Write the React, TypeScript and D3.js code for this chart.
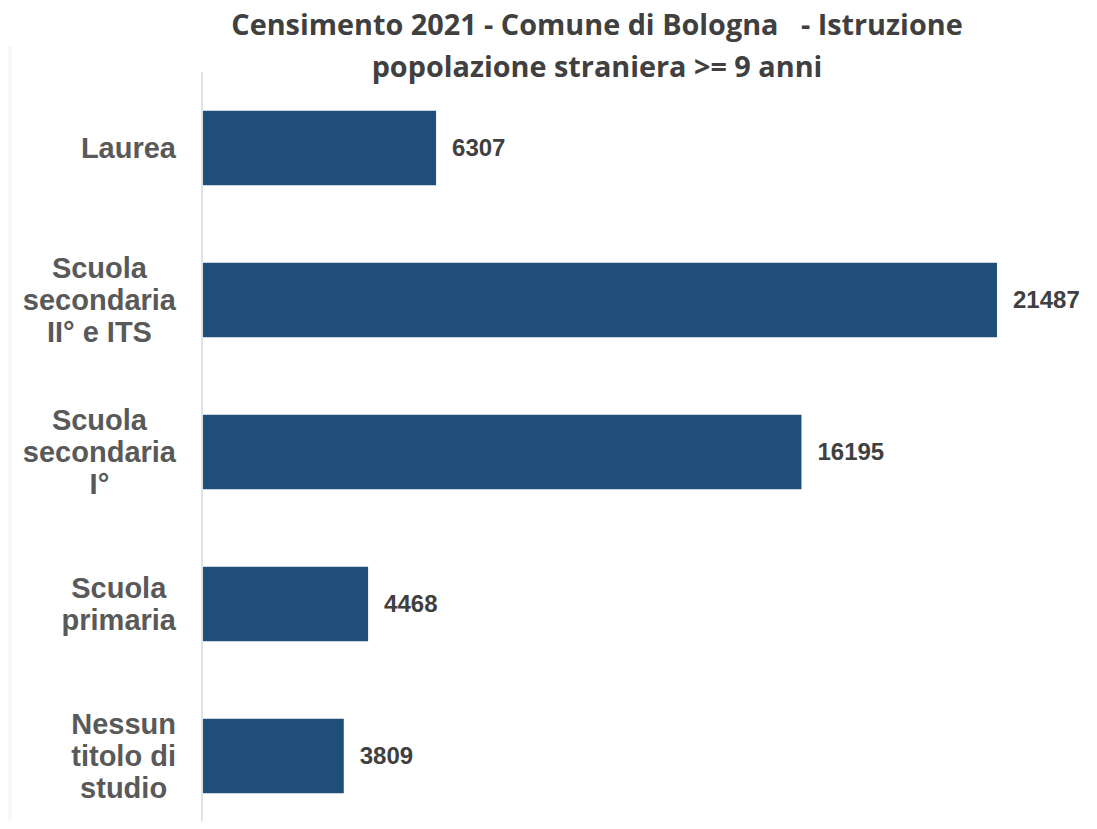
import { useRef, useEffect } from "react"
import * as d3 from "d3"

const categories = ["Laurea", "Scuola secondaria II° e ITS", "Scuola secondaria I°", "Scuola primaria", "Nessun titolo di studio"]
const categoryLines = [["Laurea"], ["Scuola", "secondaria", "II° e ITS"], ["Scuola", "secondaria", "I°"], ["Scuola", "primaria"], ["Nessun", "titolo di", "studio"]]
const values = [6307, 21487, 16195, 4468, 3809]
const titleLines = ["Censimento 2021 - Comune di Bologna   - Istruzione", "popolazione straniera >= 9 anni"]

const W = 1097
const H = 829

export default function App() {
  const svgRef = useRef<SVGSVGElement>(null)

  useEffect(() => {
    if (!svgRef.current) return
    const svg = d3.select(svgRef.current)
    svg.selectAll("*").remove()

    // faint panel strip on the left edge
    svg.append("rect").attr("x", 0).attr("y", 46).attr("width", 12).attr("height", H - 46).attr("fill", "#f4f8fa")

    const x = d3.scaleLinear().domain([0, 21487]).range([203, 997])
    const y = d3.scaleBand().domain(categories).range([72, 832]).paddingInner(0.51).paddingOuter(0.255)

    // title
    svg
      .append("g")
      .selectAll("text")
      .data(titleLines)
      .enter()
      .append("text")
      .attr("x", 597)
      .attr("y", (d, i) => 35 + i * 42)
      .attr("text-anchor", "middle")
      .style("white-space", "pre")
      .style("font-family", "'Open Sans', sans-serif")
      .style("font-weight", "bold")
      .style("font-size", "28.8px")
      .attr("fill", "#404040")
      .text((d) => d)

    // axis line
    svg.append("line").attr("x1", 202).attr("x2", 202).attr("y1", 72).attr("y2", H).attr("stroke", "#d9d9d9").attr("stroke-width", 1.5)

    // bars
    svg
      .selectAll(".bar")
      .data(values)
      .enter()
      .append("rect")
      .attr("class", "bar")
      .attr("x", x(0))
      .attr("y", (d, i) => y(categories[i]) || 0)
      .attr("width", (d) => x(d) - x(0))
      .attr("height", y.bandwidth())
      .attr("fill", "#1f4e79")

    // value labels
    svg
      .selectAll(".val")
      .data(values)
      .enter()
      .append("text")
      .attr("class", "val")
      .attr("x", (d) => x(d) + 16)
      .attr("y", (d, i) => (y(categories[i]) || 0) + y.bandwidth() / 2)
      .attr("dy", "0.35em")
      .style("font-family", "'Liberation Sans', Arial, sans-serif")
      .style("font-weight", "bold")
      .style("font-size", "24px")
      .attr("fill", "#404040")
      .text((d) => d)

    // category labels: lines centred in a block, block right-aligned
    const lh = 32
    const right = 176
    categoryLines.forEach((lines, i) => {
      const cy = (y(categories[i]) || 0) + y.bandwidth() / 2
      const t = svg
        .append("text")
        .attr("text-anchor", "middle")
        .style("font-family", "'Liberation Sans', Arial, sans-serif")
        .style("font-weight", "bold")
        .style("font-size", "29px")
        .attr("fill", "#595959")
      const spans = lines.map((ln, j) =>
        t.append("tspan")
          .attr("y", cy + (j - (lines.length - 1) / 2) * lh)
          .attr("dy", "0.35em")
          .text(ln)
      )
      const maxW = d3.max(spans, (s) => (s.node() as SVGTSpanElement).getComputedTextLength()) || 0
      spans.forEach((s) => s.attr("x", right - maxW / 2))
    })
  }, [])

  return (
    <div style={{ margin: -8 }}>
      <svg ref={svgRef} width={W} height={H} style={{ display: "block", background: "#fff" }} />
    </div>
  )
}
